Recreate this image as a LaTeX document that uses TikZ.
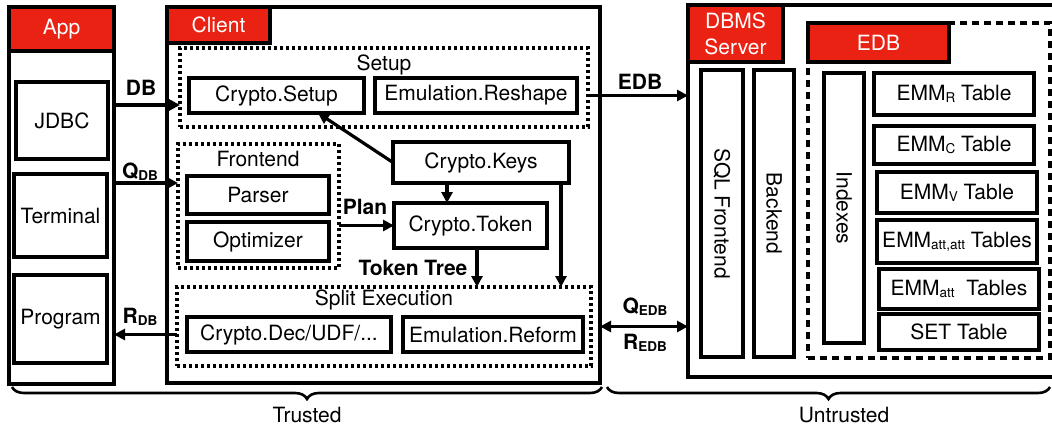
\documentclass[tikz,border=0pt]{standalone}
\usepackage{fontspec}
\setmainfont{TeX Gyre Heros}
\usetikzlibrary{arrows.meta,decorations.pathreplacing}
\definecolor{hdrred}{RGB}{234,34,20}
% small lowered index, e.g. Q_DB or EMM_R
\newcommand\lowsub[1]{\raisebox{-2pt}{\fontsize{13.5}{13.5}\selectfont #1}}

\begin{document}
\begin{tikzpicture}[x=1pt,y=-1pt,
  every node/.style={font=\fontsize{21}{24}\selectfont, inner sep=0pt, outer sep=0pt},
  box/.style={draw, line width=3.2pt, fill=white, align=center},
  hdr/.style={draw, line width=3.2pt, fill=hdrred, text=white, align=center},
  dotbox/.style={draw, line width=3.2pt, dash pattern=on 3pt off 3pt},
  dashbox/.style={draw, line width=3.2pt, dash pattern=on 7pt off 5pt},
  lbl/.style={font=\fontsize{21}{24}\bfseries\selectfont},
  arr/.style={line width=3.2pt, -{Triangle[length=11pt,width=11pt]}},
  dblarr/.style={line width=3.2pt, {Triangle[length=11pt,width=11pt]}-{Triangle[length=11pt,width=11pt]}},
  brace/.style={decorate, decoration={brace, mirror, amplitude=12pt}, line width=2.6pt},
]
\useasboundingbox (0,0) rectangle (1052,431);

% ---------------- App ----------------
\node[box, minimum width=105, minimum height=377] (app) at (61.5,195.5) {};
\node[hdr, minimum width=105, minimum height=44] (apphdr) at (61.5,29) {App};
\node[box, minimum width=92, minimum height=77] (jdbc) at (62,120.5) {JDBC};
\node[box, minimum width=93, minimum height=83] (term) at (60.5,215.5) {Terminal};
\node[box, minimum width=93, minimum height=88] (prog) at (60.5,319) {Program};

% ---------------- Client ----------------
\node[box, minimum width=433, minimum height=376] (client) at (383.5,195) {};
\node[hdr, minimum width=103, minimum height=36] (clienthdr) at (218.5,25) {Client};

\node[dotbox, minimum width=408, minimum height=79] (setup) at (384,87.5) {};
\node (setuplbl) at (384,65) {Setup};
\node[box, minimum width=175, minimum height=35] (csetup) at (276.5,95.5) {Crypto.Setup};
\node[box, minimum width=202, minimum height=35] (reshape) at (476,95.5) {Emulation.Reshape};

\node[dotbox, minimum width=161, minimum height=124] (front) at (258.5,206) {};
\node (frontlbl) at (258,159) {Frontend};
\node[box, minimum width=142, minimum height=38] (parser) at (258,195) {Parser};
\node[box, minimum width=142, minimum height=39] (optim) at (258,241.5) {Optimizer};

\node[box, minimum width=176, minimum height=41] (keys) at (481,162.5) {Crypto.Keys};
\node[box, minimum width=153, minimum height=45] (token) at (470.5,225.5) {Crypto.Token};

\node[dotbox, minimum width=414, minimum height=79] (split) at (384,326.5) {};
\node (splitlbl) at (384,300) {Split Execution};
\node[box, minimum width=204, minimum height=35] (dec) at (289,334.5) {Crypto.Dec/UDF/...};
\node[box, minimum width=180, minimum height=35] (reform) at (493,334.5) {Emulation.Reform};

% ---------------- DBMS Server ----------------
\node[box, minimum width=376, minimum height=372] (dbms) at (876,191) {};
\node[hdr, minimum width=95, minimum height=57, font=\fontsize{21}{26}\selectfont] (dbmshdr) at (735.5,33.5) {DBMS\\Server};
\node[box, rotate=-90, minimum width=287, minimum height=42] (sqlfe) at (722,213.5) {SQL Frontend};
\node[box, rotate=-90, minimum width=287, minimum height=40] (backend) at (774,213.5) {Backend};

\node[dashbox, minimum width=242, minimum height=335] (edb) at (929,190.5) {};
\node[hdr, minimum width=141, minimum height=39] (edbhdr) at (878.5,42.5) {EDB};
\node[box, rotate=-90, minimum width=270, minimum height=40] (idx) at (844,208) {Indexes};
\node[box, minimum width=160, minimum height=42] (emmr) at (954,94) {EMM\lowsub{R} Table};
\node[box, minimum width=160, minimum height=38] (emmc) at (954,145) {EMM\lowsub{C} Table};
\node[box, minimum width=160, minimum height=41] (emmv) at (957,192.5) {EMM\lowsub{V} Table};
\node[box, minimum width=160, minimum height=43] (emmaa) at (957,241.5) {EMM\lowsub{att,att} Tables};
\node[box, minimum width=160, minimum height=40] (emma) at (959,289) {EMM\lowsub{att}\ \ Tables};
\node[box, minimum width=160, minimum height=36] (set) at (959,332) {SET Table};

% ---------------- connectors ----------------
\coordinate (dbrail) at (0,105);
\coordinate (qdbrail) at (0,183);
\draw[arr] (app.east |- dbrail) -- (setup.west |- dbrail);
\draw[arr] (app.east |- qdbrail) -- (front.west |- qdbrail);
\draw[arr] (split.west |- dec) -- (app.east |- dec);
\draw[arr] (setup.east |- reshape) -- (dbms.west |- reshape);
\draw[dblarr] (client.east |- split) -- (dbms.west |- split);

\draw[arr] (keys.west) -- ([xshift=41.5pt]csetup.south);
\draw[arr] ([xshift=-34pt]keys.south) -- ([xshift=-23.5pt]token.north);
\coordinate (kdrop) at ([xshift=-8pt]keys.south east);
\draw[arr] (kdrop) -- (kdrop |- split.north);
\coordinate (tdrop) at ([xshift=6.5pt]token.south);
\draw[arr] (tdrop) -- (tdrop |- split.north);
\draw[arr] (front.east |- token) -- (token.west);

% ---------------- connector labels ----------------
\node[lbl] (dblbl) at (141,88) {DB};
\node[lbl] (qdblbl) at (140,172) {Q\lowsub{DB}};
\node[lbl] (rdblbl) at (140,317) {R\lowsub{DB}};
\node[lbl] (edblbl) at (640,82) {EDB};
\node[lbl] (planlbl) at (365,207) {Plan};
\node[lbl] (ttlbl) at (413,268) {Token Tree};
\node[lbl] (qedblbl) at (645,307) {Q\lowsub{EDB}};
\node[lbl] (redblbl) at (645,343) {R\lowsub{EDB}};

% ---------------- trust zones ----------------
\draw[brace] (12,387) -- (602,387);
\node (trusted) at (307,415) {Trusted};
\draw[brace] (607,387) -- (1050,387);
\node (untrusted) at (844,415) {Untrusted};
\end{tikzpicture}
\end{document}
